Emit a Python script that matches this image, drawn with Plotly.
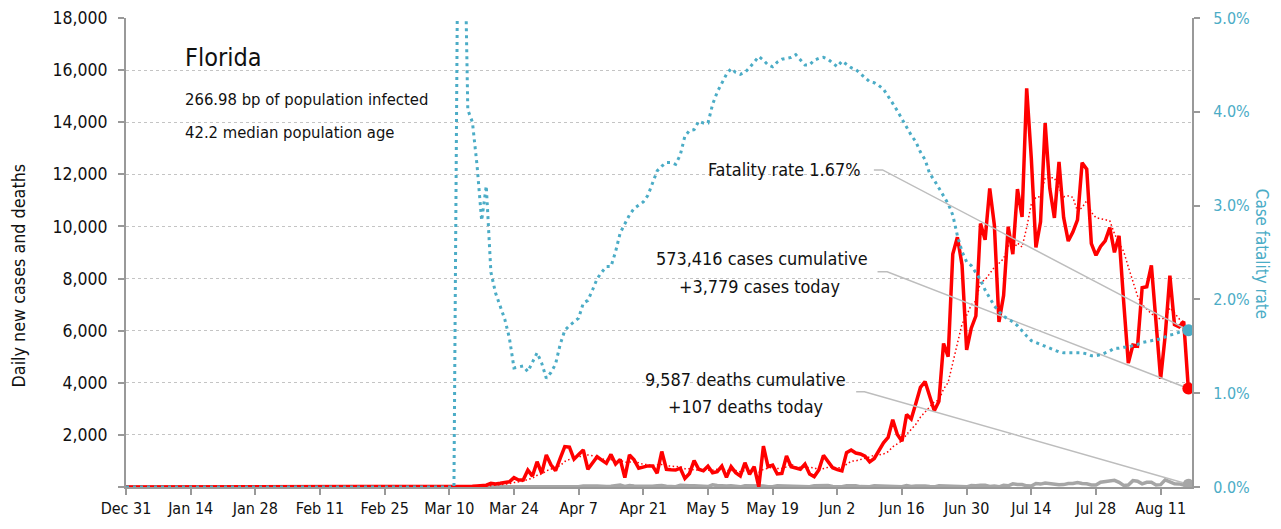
import pandas as pd
import plotly.graph_objects as go

# ---------------- data ----------------
dates = pd.date_range("2019-12-31", "2020-08-17", freq="D")

cases_pre_march = [0] * 61  # Dec 31 .. Feb 29
cases_mar = [0, 2, 0, 1, 0, 2, 2, 5, 3, 4, 7, 13, 17, 28, 26, 40, 60, 70, 140, 115,
             140, 165, 200, 360, 270, 270, 650, 420, 970, 525, 1230]
cases_apr = [850, 630, 1100, 1550, 1530, 1070, 1250, 1420, 680, 920, 1160, 1030, 910,
             1250, 880, 1060, 360, 1230, 1040, 720, 780, 810, 810, 530, 1360, 680, 660,
             650, 720, 330]
cases_may = [520, 1010, 680, 620, 800, 550, 590, 800, 370, 780, 550, 420, 930, 490, 780,
             10, 1570, 780, 840, 500, 520, 1190, 780, 720, 680, 880, 500, 400, 651, 1212, 957]
cases_jun = [739, 667, 617, 1317, 1419, 1305, 1270, 1180, 966, 1096, 1371, 1698, 1902,
             2581, 2016, 1758, 2783, 2610, 3207, 3822, 4049, 3494, 2926, 3286, 5508, 5004,
             8942, 9585, 8530, 5266]
cases_jul = [6093, 6563, 10109, 9488, 11458, 10059, 6336, 7347, 9989, 8935, 11433, 10360,
             15300, 12624, 9194, 10181, 13965, 11466, 10328, 12478, 10347, 9440, 9785,
             10249, 12444, 12199, 9344, 8892, 9230, 9446, 9956]
cases_aug = [9007, 9642, 7104, 4752, 5446, 5409, 7650, 7686, 8502, 6229, 4155, 5831, 8109,
             6236, 6148, 6352, 3779]

deaths_pre_march = [0] * 61
deaths_mar = [0, 0, 0, 0, 0, 0, 0, 0, 0, 0, 0, 2, 0, 1, 2, 0, 1, 2, 1, 2, 3, 1, 3, 4, 5, 5,
              6, 8, 16, 2, 12]
deaths_apr = [13, 25, 21, 26, 25, 16, 9, 41, 22, 35, 42, 19, 22, 25, 48, 72, 23, 57, 36, 29,
              20, 44, 27, 47, 58, 33, 20, 14, 62, 46]
deaths_may = [50, 49, 54, 32, 15, 81, 54, 33, 42, 48, 27, 6, 45, 50, 50, 44, 39, 13, 8, 48,
              43, 57, 48, 16, 16, 11, 9, 46, 58, 41, 56]
deaths_jun = [22, 10, 12, 49, 57, 46, 15, 15, 9, 47, 37, 47, 37, 28, 14, 8, 53, 17, 42, 45,
              37, 16, 5, 48, 45, 44, 41, 28, 18, 7]
deaths_jul = [58, 45, 67, 67, 18, 38, 7, 63, 48, 120, 93, 95, 45, 35, 132, 112, 156, 128, 90,
              87, 92, 134, 139, 173, 135, 124, 77, 78, 186, 216, 253]
deaths_aug = [257, 179, 62, 73, 245, 225, 120, 182, 180, 77, 91, 276, 212, 120, 119, 77, 107]

# case fatality rate, percent
cfr_pre = [0.0] * 72  # Dec 31 .. Mar 11
cfr_mar = [7.0, 6.8, 4.02, 3.89, 3.43, 2.84, 3.21, 2.29, 2.07, 1.93, 1.79, 1.59, 1.27, 1.28,
           1.29, 1.23, 1.33, 1.43, 1.32, 1.16]
cfr_apr = [1.22, 1.31, 1.52, 1.67, 1.72, 1.76, 1.80, 1.96, 1.99, 2.10, 2.22, 2.29, 2.35, 2.35,
           2.51, 2.71, 2.80, 2.90, 2.97, 3.01, 3.04, 3.11, 3.24, 3.37, 3.42, 3.46, 3.46, 3.44,
           3.54, 3.74]
cfr_may = [3.80, 3.81, 3.90, 3.88, 3.88, 4.08, 4.21, 4.30, 4.40, 4.46, 4.42, 4.40, 4.42, 4.47,
           4.53, 4.59, 4.55, 4.50, 4.48, 4.53, 4.56, 4.57, 4.58, 4.61, 4.55, 4.50, 4.50, 4.55,
           4.57, 4.58, 4.56]
cfr_jun = [4.52, 4.48, 4.54, 4.50, 4.47, 4.45, 4.41, 4.36, 4.32, 4.31, 4.28, 4.24, 4.17, 4.09,
           4.01, 3.92, 3.84, 3.75, 3.68, 3.57, 3.49, 3.34, 3.27, 3.19, 3.10, 3.02, 2.90, 2.68,
           2.51, 2.40]
cfr_jul = [2.36, 2.29, 2.21, 2.10, 2.01, 1.93, 1.87, 1.82, 1.79, 1.76, 1.72, 1.66, 1.61, 1.56,
           1.54, 1.52, 1.50, 1.48, 1.46, 1.44, 1.43, 1.43, 1.43, 1.43, 1.43, 1.42, 1.40, 1.40,
           1.41, 1.43, 1.45]
cfr_aug = [1.48, 1.48, 1.49, 1.49, 1.51, 1.52, 1.54, 1.55, 1.56, 1.57, 1.58, 1.60, 1.62, 1.63,
           1.65, 1.66, 1.67]

x_tick_vals = ["2019-12-31", "2020-01-14", "2020-01-28", "2020-02-11", "2020-02-25",
               "2020-03-10", "2020-03-24", "2020-04-07", "2020-04-21", "2020-05-05",
               "2020-05-19", "2020-06-02", "2020-06-16", "2020-06-30", "2020-07-14",
               "2020-07-28", "2020-08-11"]
x_tick_text = ["Dec 31", "Jan 14", "Jan 28", "Feb 11", "Feb 25", "Mar 10", "Mar 24", "Apr 7",
               "Apr 21", "May 5", "May 19", "Jun 2", "Jun 16", "Jun 30", "Jul 14", "Jul 28",
               "Aug 11"]
y_tick_vals = [0, 2000, 4000, 6000, 8000, 10000, 12000, 14000, 16000, 18000]
y_tick_text = ["", "2,000", "4,000", "6,000", "8,000", "10,000", "12,000", "14,000",
               "16,000", "18,000"]
y2_tick_vals = [0, 1, 2, 3, 4, 5]
y2_tick_text = ["0.0%", "1.0%", "2.0%", "3.0%", "4.0%", "5.0%"]

state_name = "Florida"
subtitle_1 = "266.98 bp of population infected"
subtitle_2 = "42.2 median population age"
total_cases = 573416
total_deaths = 9587

# ---------------- assemble ----------------
cases = cases_pre_march + cases_mar + cases_apr + cases_may + cases_jun + cases_jul + cases_aug
deaths = deaths_pre_march + deaths_mar + deaths_apr + deaths_may + deaths_jun + deaths_jul + deaths_aug
cfr = cfr_pre + cfr_mar + cfr_apr + cfr_may + cfr_jun + cfr_jul + cfr_aug

df = pd.DataFrame({"date": dates, "cases": cases, "deaths": deaths, "cfr": cfr})
df["cases_avg"] = df["cases"].rolling(7, min_periods=1).mean()
last = df.iloc[-1]

RED = "#ff0000"
TEAL = "#4bacc6"
GRAY = "#a6a6a6"
LEADER = "#bdbdbd"
FONT = "DejaVu Sans Condensed, DejaVu Sans, sans-serif"
TXT = "#111111"

fig = go.Figure()

fig.add_trace(go.Scatter(x=df["date"], y=df["deaths"], mode="lines",
                         line=dict(color=GRAY, width=3.5), hoverinfo="skip"))
fig.add_trace(go.Scatter(x=df["date"], y=df["cases_avg"], mode="lines",
                         line=dict(color=RED, width=1.5, dash="1.5px,2.5px"), hoverinfo="skip"))
fig.add_trace(go.Scatter(x=df["date"], y=df["cases"], mode="lines",
                         line=dict(color=RED, width=3.5), hoverinfo="skip"))

# leader lines (start at label positions, end at the latest data points)
fig.add_trace(go.Scatter(x=["2020-06-06 02:00", "2020-06-07 21:00", last["date"]],
                         y=[3657, 3657, last["deaths"]], mode="lines",
                         line=dict(color=LEADER, width=1.5), hoverinfo="skip"))
fig.add_trace(go.Scatter(x=["2020-06-10 17:00", "2020-06-12 19:00", last["date"]],
                         y=[8263, 8263, last["cases"]], mode="lines",
                         line=dict(color=LEADER, width=1.5), hoverinfo="skip"))

fig.add_trace(go.Scatter(x=[last["date"]], y=[last["deaths"]], mode="markers",
                         marker=dict(color=GRAY, size=11), hoverinfo="skip"))
fig.add_trace(go.Scatter(x=[last["date"]], y=[last["cases"]], mode="markers",
                         marker=dict(color=RED, size=12), hoverinfo="skip"))

fig.add_trace(go.Scatter(x=df["date"], y=df["cfr"], mode="lines", yaxis="y2",
                         line=dict(color=TEAL, width=3, dash="3px,4px"), hoverinfo="skip"))
fig.add_trace(go.Scatter(x=["2020-06-09 22:00", "2020-06-11 19:00", last["date"]],
                         y=[3.38, 3.38, last["cfr"]], mode="lines", yaxis="y2",
                         line=dict(color=LEADER, width=1.5), hoverinfo="skip"))
fig.add_trace(go.Scatter(x=[last["date"]], y=[last["cfr"]], mode="markers", yaxis="y2",
                         marker=dict(color=TEAL, size=12), hoverinfo="skip"))


def label(text, x, y, size, xanchor="left", color=TXT, angle=0):
    return dict(text=text, x=x, y=y, xref="paper", yref="paper", xanchor=xanchor,
                yanchor="middle", showarrow=False, textangle=angle,
                font=dict(family=FONT, size=size, color=color))


annotations = [
    label(state_name, 0.0535, 0.915, 25),
    label(subtitle_1, 0.0535, 0.826, 16.5),
    label(subtitle_2, 0.0535, 0.756, 16.5),
    label(f"Fatality rate {last['cfr']:.2f}%", 0.6904, 0.676, 17.9, xanchor="right"),
    label(f"{total_cases:,} cases cumulative", 0.5966, 0.487, 17.9, xanchor="center"),
    label(f"+{int(last['cases']):,} cases today", 0.5947, 0.427, 17.9, xanchor="center"),
    label(f"{total_deaths:,} deaths cumulative", 0.5816, 0.229, 17.9, xanchor="center"),
    label(f"+{int(last['deaths']):,} deaths today", 0.5816, 0.171, 17.9, xanchor="center"),
    label("Daily new cases and deaths", -0.1008, 0.45, 17.8, xanchor="center", angle=-90),
    label("Case fatality rate", 1.0657, 0.497, 16.8, xanchor="center", color=TEAL, angle=90),
]

fig.update_layout(
    width=1281, height=529,
    margin=dict(l=126, r=89, t=18, b=42, autoexpand=False),
    paper_bgcolor="white", plot_bgcolor="white",
    showlegend=False,
    font=dict(family=FONT, color=TXT),
    annotations=annotations,
    xaxis=dict(range=["2019-12-31", "2020-08-17 19:00"], tickvals=x_tick_vals,
               ticktext=x_tick_text, ticks="outside", ticklen=6, tickwidth=1.5,
               tickcolor="#999", showline=True, linecolor="#999", linewidth=2,
               showgrid=False, zeroline=False, automargin=False,
               tickfont=dict(size=16, color=TXT)),
    yaxis=dict(range=[0, 18000], tickvals=y_tick_vals, ticktext=y_tick_text,
               ticks="outside", ticklen=6, tickwidth=1.5, tickcolor="#999",
               showline=True, linecolor="#999", linewidth=2, showgrid=True,
               gridcolor="#c4c4c4", griddash="dot", gridwidth=1, zeroline=False,
               automargin=False, ticklabelstandoff=7,
               tickfont=dict(size=17.5, color=TXT)),
    yaxis2=dict(range=[0, 5], tickvals=y2_tick_vals, ticktext=y2_tick_text,
                overlaying="y", side="right", ticks="outside", ticklen=6, tickwidth=1.5,
                tickcolor="#999", showline=True, linecolor="#999", linewidth=2,
                showgrid=False, zeroline=False, automargin=False, ticklabelstandoff=10,
                tickfont=dict(size=16, color=TEAL)),
)

fig.write_html(
    "out.html",
    config={"displayModeBar": False},
    post_script="document.body.style.margin='0';document.body.style.overflow='hidden';",
)
